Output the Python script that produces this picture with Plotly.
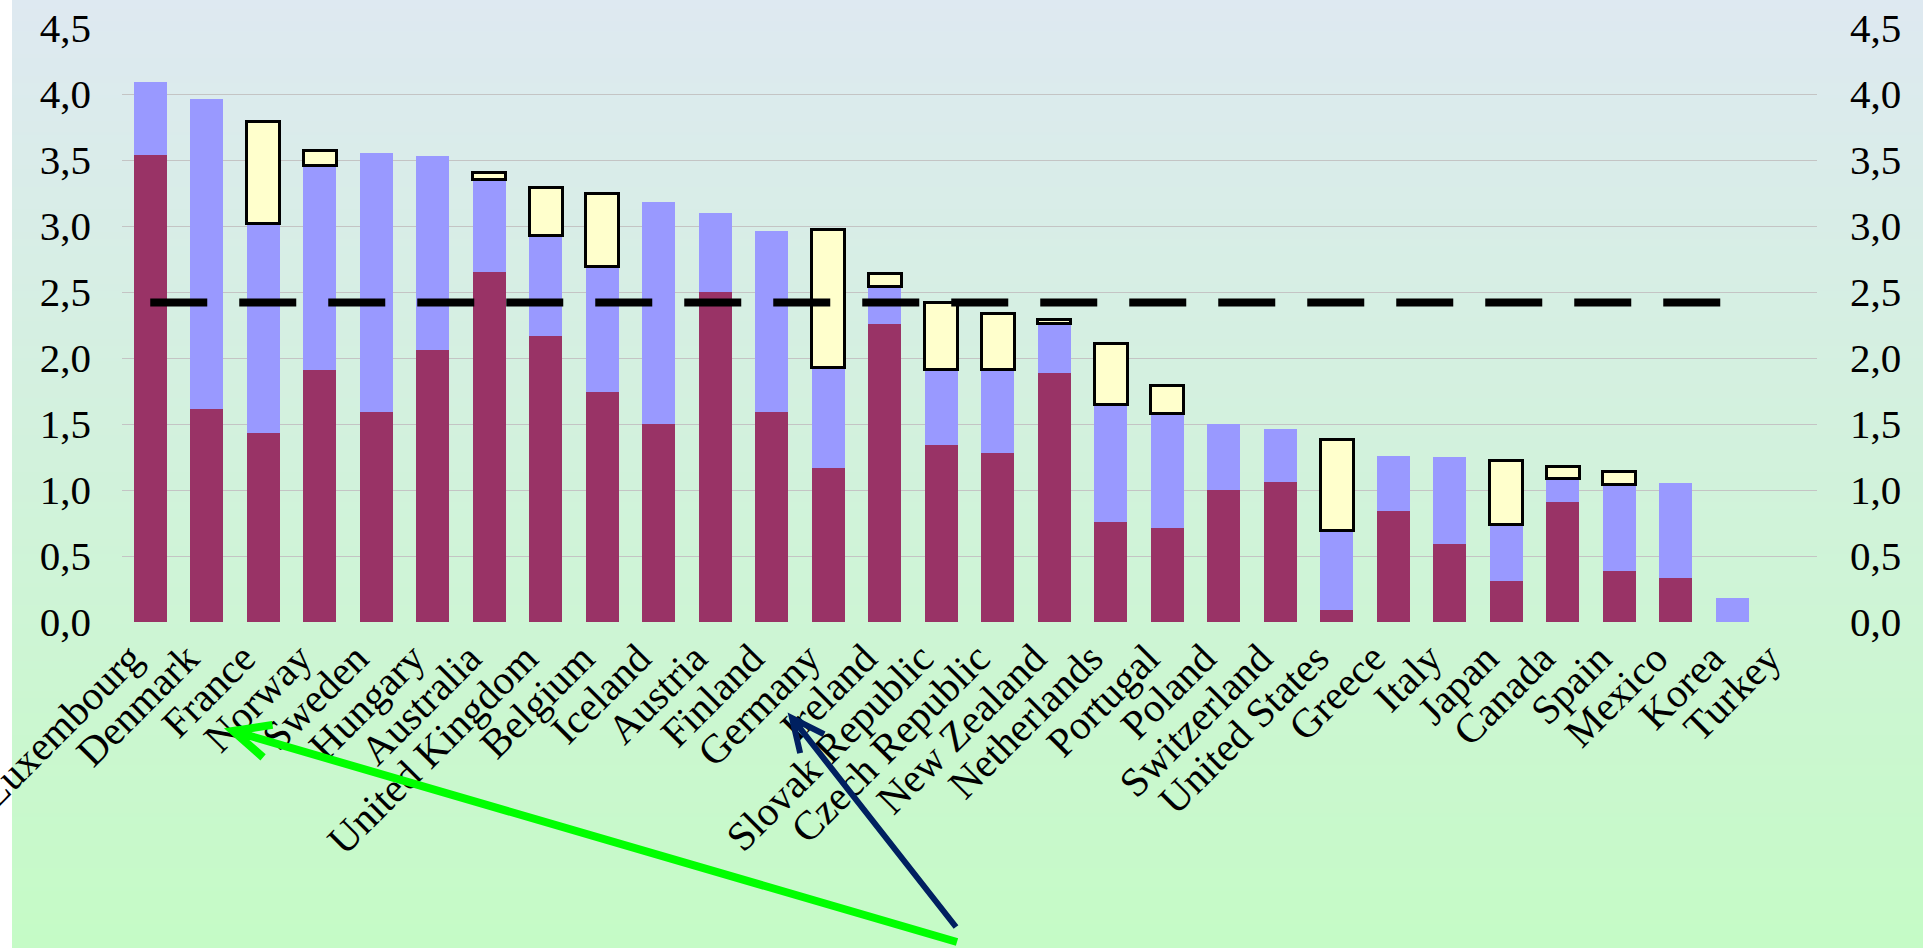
import base64, struct, zlib, math
import plotly.graph_objects as go

# ---------------- data ----------------
countries = ["Luxembourg", "Denmark", "France", "Norway", "Sweden", "Hungary", "Australia",
             "United Kingdom", "Belgium", "Iceland", "Austria", "Finland", "Germany", "Ireland",
             "Slovak Republic", "Czech Republic", "New Zealand", "Netherlands", "Portugal",
             "Poland", "Switzerland", "United States", "Greece", "Italy", "Japan", "Canada",
             "Spain", "Mexico", "Korea", "Turkey"]

# bottom segment (maroon)
seg_bottom = [3.54, 1.61, 1.43, 1.91, 1.59, 2.06, 2.65, 2.17, 1.74, 1.50, 2.50, 1.59, 1.17, 2.26,
              1.34, 1.28, 1.89, 0.76, 0.71, 1.00, 1.06, 0.09, 0.84, 0.59, 0.31, 0.91, 0.39, 0.33,
              None, None]
# middle segment (light blue)
seg_middle = [0.55, 2.35, 1.59, 1.55, 1.96, 1.47, 0.70, 0.76, 0.95, 1.68, 0.60, 1.37, 0.76, 0.28,
              0.57, 0.63, 0.37, 0.89, 0.87, 0.50, 0.40, 0.60, 0.42, 0.66, 0.43, 0.18, 0.65, 0.72,
              0.18, None]
# top segment (yellow, outlined)
seg_top = [None, None, 0.77, 0.11, None, None, 0.055, 0.36, 0.56, None, None, None, 1.04, 0.10,
           0.51, 0.43, 0.03, 0.46, 0.21, None, None, 0.69, None, None, 0.48, 0.09, 0.10, None,
           None, None]

average_value = 2.42
average_from, average_to = "Luxembourg", "Korea"

y_ticks = [0, 0.5, 1.0, 1.5, 2.0, 2.5, 3.0, 3.5, 4.0, 4.5]

# ---------------- layout geometry ----------------
W, H = 1923, 948
ML, MR, MT, MB = 122, 106, 28, 326
PW, PH = W - ML - MR, H - MT - MB


def px2paper(x, y):
    return (x - ML) / PW, (H - MB - y) / PH


# gradient background as png
def gradient_png(top, bottom, h=256, w=4):
    rows = []
    for i in range(h):
        t = i / (h - 1)
        c = [round(top[k] + (bottom[k] - top[k]) * t) for k in range(3)]
        rows.append(b"\x00" + bytes(c) * w)
    raw = b"".join(rows)

    def chunk(tag, data):
        return struct.pack(">I", len(data)) + tag + data + struct.pack(">I", zlib.crc32(tag + data) & 0xffffffff)
    png = b"\x89PNG\r\n\x1a\n" + chunk(b"IHDR", struct.pack(">IIBBBBB", w, h, 8, 2, 0, 0, 0)) \
        + chunk(b"IDAT", zlib.compress(raw, 9)) + chunk(b"IEND", b"")
    return "data:image/png;base64," + base64.b64encode(png).decode()


bg = gradient_png((222, 233, 241), (197, 251, 198))

FONT = "Liberation Serif, Times New Roman, serif"

fig = go.Figure()
fig.add_trace(go.Bar(x=countries, y=seg_bottom, marker=dict(color="#993366", line=dict(width=0)),
                     hoverinfo="skip"))
fig.add_trace(go.Bar(x=countries, y=seg_middle, marker=dict(color="#9999FF", line=dict(width=0)),
                     hoverinfo="skip"))
fig.add_trace(go.Bar(x=countries, y=seg_top, marker=dict(color="#FFFFCC", line=dict(color="black", width=3)),
                     hoverinfo="skip"))
fig.add_trace(go.Scatter(x=[average_from, average_to], y=[average_value, average_value], mode="lines",
                         line=dict(color="black", width=8, dash="57px,32px"), yaxis="y2",
                         hoverinfo="skip"))

# arrows (pointing to France and Germany labels)
def arrow(tail, tip, color, width, wing_len, wing_ang=25):
    ang = math.atan2(tail[1] - tip[1], tail[0] - tip[0])
    wings = []
    for s in (-1, 1):
        a = ang + s * math.radians(wing_ang)
        wings.append((tip[0] + wing_len * math.cos(a), tip[1] + wing_len * math.sin(a)))
    pts = [px2paper(*p) for p in (tail, tip, wings[0], wings[1])]
    path = "M{0[0]},{0[1]} L{1[0]},{1[1]} M{2[0]},{2[1]} L{1[0]},{1[1]} L{3[0]},{3[1]}".format(*pts)
    return dict(type="path", xref="paper", yref="paper", path=path,
                line=dict(color=color, width=width), layer="above")


shapes = [
    arrow((957, 942), (233, 731), "#00FF00", 8, 40),
    arrow((956, 927), (792, 718), "#002060", 6, 36),
]

x0, y0 = px2paper(12, 0)
fig.update_layout(
    width=W, height=H, autosize=False,
    margin=dict(l=ML, r=MR, t=MT, b=MB, pad=0, autoexpand=False),
    paper_bgcolor="white", plot_bgcolor="rgba(0,0,0,0)",
    barmode="stack", bargap=0.42, showlegend=False,
    separators=", ",
    font=dict(family=FONT, size=40, color="black"),
    images=[dict(source=bg, xref="paper", yref="paper", x=x0, y=y0,
                 sizex=(W - 12) / PW, sizey=H / PH, sizing="stretch", xanchor="left",
                 yanchor="top", layer="below")],
    shapes=shapes,
    xaxis=dict(type="category", range=[-0.5, len(countries) - 0.5], tickangle=-45,
               showgrid=False, showline=False, zeroline=False, ticks="", automargin=False,
               ticklabelstandoff=3, ticklabelshift=-20, tickfont=dict(family=FONT, size=41)),
    yaxis=dict(range=[0, 4.5], tickvals=y_ticks, tickformat=".1f", showgrid=True,
               gridcolor="#C4C4C4", gridwidth=1, zeroline=False, showline=False, ticks="",
               automargin=False, ticklabelstandoff=30, tickfont=dict(family=FONT, size=41)),
    yaxis2=dict(range=[0, 4.5], tickvals=y_ticks, tickformat=".1f", overlaying="y", side="right",
                showgrid=False, zeroline=False, showline=False, ticks="", automargin=False,
                ticklabelstandoff=32, tickfont=dict(family=FONT, size=41)),
)

fig.write_html("out.html")
